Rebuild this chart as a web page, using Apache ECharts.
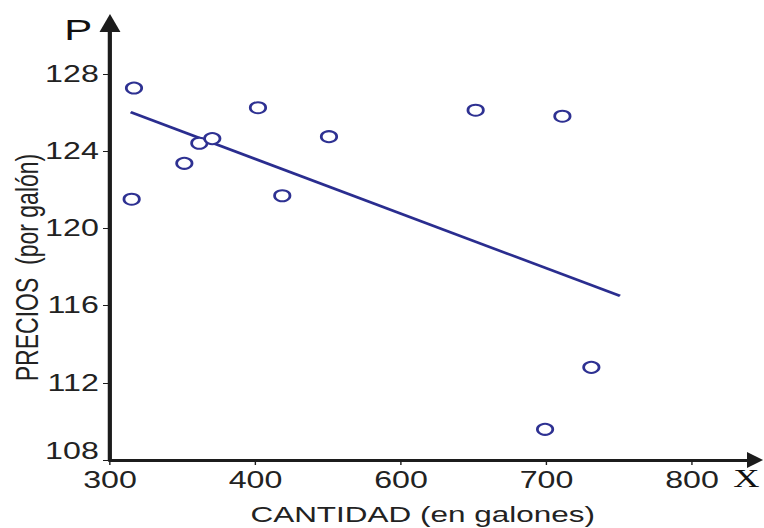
<!DOCTYPE html>
<html><head><meta charset="utf-8">
<script src="https://cdn.jsdelivr.net/npm/echarts@6/dist/echarts.min.js"></script>
<style>
html,body{margin:0;padding:0;background:#fff;overflow:hidden;width:764px;height:528px;}
#wrap{position:absolute;left:0;top:0;width:546px;height:528px;transform:scaleX(1.39927);transform-origin:0 0;}
#chart{width:546px;height:528px;}
</style></head><body>
<div id="wrap"><div id="chart"></div></div>
<script>
// Scatter data (x in axis units, y = price)
const cantidad = [316.5, 314.9, 351.1, 361.4, 370.3, 401.7, 418.4, 450.5, 551.3, 599.0, 610.9, 630.8];
const precios  = [127.27, 121.51, 123.37, 124.41, 124.65, 126.25, 121.69, 124.75, 126.12, 109.59, 125.81, 112.80];
// Regression line end points
const rectaX = [314.2, 650.5];
const rectaY = [126.02, 116.50];
// Tick values and the labels printed at them
const xTickValues = [300, 400, 500, 600, 700];
const xTickLabels = ['300', '400', '600', '700', '800'];
const yTickValues = [108, 112, 116, 120, 124, 128];
const yTickLabels = ['108', '112', '116', '120', '124', '128'];

const axisColor = '#1c1c1c';
const markColor = '#2e3192';

const chart = echarts.init(document.getElementById('chart'), null, {renderer: 'svg'});
chart.setOption({
  animation: false,
  backgroundColor: '#fff',
  grid: {left: 78.6, right: 6.4, top: 23, bottom: 68, containLabel: false, outerBoundsMode: 'none'},
  xAxis: {
    type: 'value', min: 300, max: 743.3,
    axisLine: {show: true, symbol: ['none', 'triangle'], symbolSize: [16, 11.5], lineStyle: {color: axisColor, width: 3}},
    axisTick: {show: true, length: 5, customValues: xTickValues, lineStyle: {color: axisColor, width: 1}},
    axisLabel: {customValues: xTickValues, margin: 9, fontSize: 23, color: '#222', fontFamily: 'Liberation Sans',
      formatter: v => xTickLabels[xTickValues.indexOf(v)] || ''},
    splitLine: {show: false},
    name: 'CANTIDAD (en galones)', nameLocation: 'middle', nameGap: 43, nameMoveOverlap: false,
    nameTextStyle: {fontSize: 22.5, color: '#222', fontFamily: 'Liberation Sans', padding: [0, 14, 0, 0]}
  },
  yAxis: {
    type: 'value', min: 108, max: 130.64,
    axisLine: {show: true, symbol: ['none', 'triangle'], symbolSize: [15, 18], lineStyle: {color: axisColor, width: 3}},
    axisTick: {show: true, length: 5, customValues: yTickValues, lineStyle: {color: axisColor, width: 1}},
    axisLabel: {customValues: yTickValues, margin: 8, fontSize: 23, color: '#222', fontFamily: 'Liberation Sans',
      formatter: v => {
        const i = yTickValues.indexOf(v);
        if (i < 0) return '';
        return i === 0 ? '{lo|' + yTickLabels[i] + '}' : yTickLabels[i];
      },
      rich: {lo: {fontSize: 23, color: '#222', fontFamily: 'Liberation Sans', padding: [0, 0, 18, 0]}}},
    splitLine: {show: false},
    name: 'PRECIOS  (por galón)', nameLocation: 'middle', nameRotate: 90, nameGap: 48, nameMoveOverlap: false,
    nameTextStyle: {fontSize: 23, color: '#222', fontFamily: 'Liberation Sans', padding: [0, 52, 0, 0]}
  },
  graphic: [
    {type: 'text', left: 46, top: 15, style: {text: 'P', fontSize: 30, fill: '#111', fontFamily: 'Liberation Sans'}},
    {type: 'text', left: 524, top: 465, style: {text: 'X', fontSize: 26, fill: '#111', fontFamily: 'Liberation Serif'}}
  ],
  series: [
    {type: 'scatter', symbol: 'emptyCircle', symbolSize: 11,
      itemStyle: {color: markColor, borderWidth: 0.85, opacity: 1},
      data: cantidad.map((x, i) => [x, precios[i]]), z: 3},
    {type: 'line', showSymbol: false, lineStyle: {color: '#2a2d8f', width: 2.6},
      data: rectaX.map((x, i) => [x, rectaY[i]]), z: 2}
  ]
});
</script>
</body></html>
